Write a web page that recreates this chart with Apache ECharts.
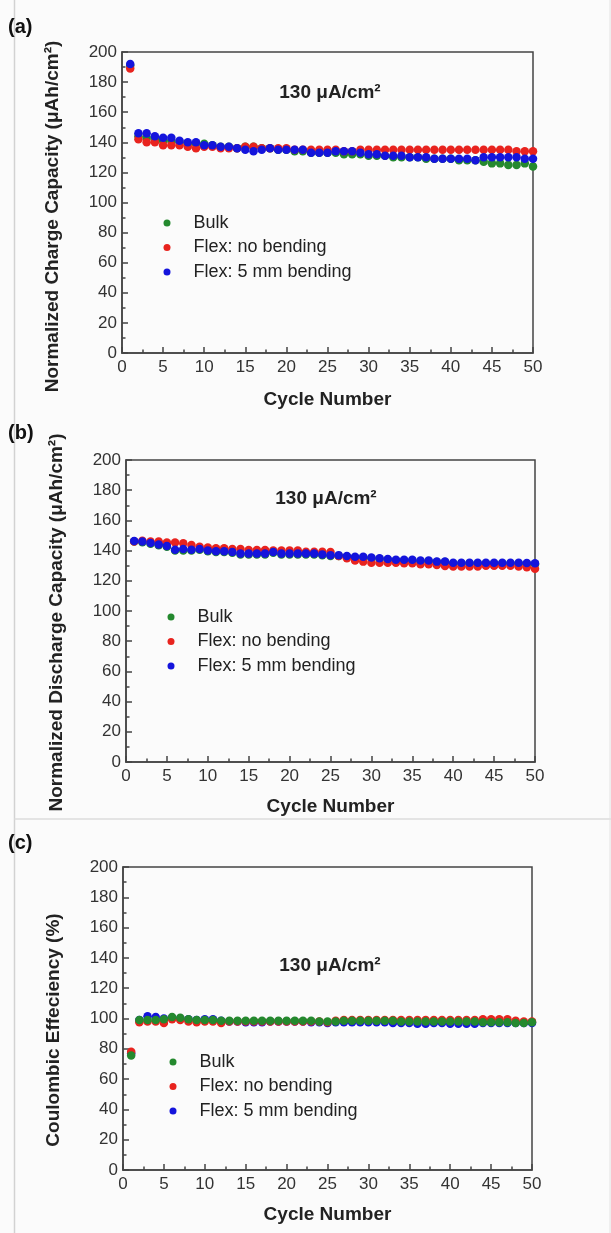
<!DOCTYPE html>
<html>
<head>
<meta charset="utf-8">
<script src="https://cdn.jsdelivr.net/npm/echarts@6/dist/echarts.min.js"></script>
<style>
html, body { margin: 0; padding: 0; background: #fbfbfb; }
#main { width: 611px; height: 1233px; }
</style>
</head>
<body>
<div id="main"></div>
<script>
var cycles = [1,2,3,4,5,6,7,8,9,10,11,12,13,14,15,16,17,18,19,20,21,22,23,24,25,
              26,27,28,29,30,31,32,33,34,35,36,37,38,39,40,41,42,43,44,45,46,47,48,49,50];
var seriesNames = ['Bulk', 'Flex: no bending', 'Flex: 5 mm bending'];

// (a) normalized charge capacity
var chargeBulk = [191,144,143,142,141,141,140,139,139,139,138,137,137,136,137,137,136,136,135,135,
                  134,134,133,133,133,133,132,132,132,131,131,131,130,130,130,130,129,129,129,129,
                  128,128,128,127,126,126,125,125,126,124];
var chargeFlex = [189,142,140,140,138,138,138,137,136,137,137,136,136,136,137,137,136,136,136,136,
                  135,135,135,135,135,135,134,134,135,135,135,135,135,135,135,135,135,135,135,135,
                  135,135,135,135,135,135,135,134,134,134];
var chargeBend = [192,146,146,144,143,143,141,140,140,138,138,137,137,136,135,134,135,136,135,135,
                  135,135,133,133,133,134,134,134,133,132,132,131,131,131,130,130,130,129,129,129,
                  129,129,128,130,130,130,130,130,129,129];

// (b) normalized discharge capacity
var dischargeBulk = [146,145.5,144.5,143.5,142.5,140,140,140,140.5,139.5,139,139,138.5,137.5,137.5,137.5,137.5,138.5,137.5,137.5,
                     137.5,137.5,137.5,137,136.5,136.5,136,135.5,135.5,135,134.5,134,133.5,133.5,133.5,133,133,132.5,132.5,131.5,
                     131.5,131.5,131.5,131.5,131.5,131.5,131.5,131.5,131,131];
var dischargeFlex = [146,146.6,146,146,145.3,145.3,144.8,143.7,142.6,142,141.5,141.5,141,141,140.4,140.4,140.4,140,140,140,
                     140,139.3,139.3,139.3,139,136.5,135,133.5,132.7,132,132,132,132,131.6,131.6,131,131,130.5,129.8,129.4,
                     129.4,129.5,129.5,130,130,130,130,129.5,129,128];
var dischargeBend = [146.4,146,145,144,143,140.5,141,140.5,141,140,139.5,139.5,139,138,138,138,138,139,138,138,
                     138,138,138,137.5,137,137,136.5,136,136,135.5,135,134.5,134,134,134,133.5,133.5,132.7,132.7,132,
                     132,132,132,132,132,132,132,132,131.8,131.6];

// (c) coulombic efficiency
var ceBulk = [75.5,99,99,99,99.5,101,100.5,99.5,99,99,99,98.5,98.5,98.5,98.5,98.5,98.5,98.5,98.5,98.5,
              98.5,98.5,98.5,98,98,98,98.5,98.5,98.5,98.5,98.5,98.5,98.5,98,98,98,98,98,98,98,
              98,98,98,97.5,97.5,97.5,97.5,97,97,97.5];
var ceFlex = [78,97.5,98,98,97,99.5,99,98,97.5,98,98,97,98,98,98,98,98,98,98,98,
              98,98,98,98,97.5,98.5,99,99,99,99,99,99,99,99,99,99,99,99,99,99,
              99,99,99,99.5,99.5,99.5,99.5,98.5,98,98];
var ceBend = [77,99,101.5,101,100,100.5,100,99.5,99,99.5,99.5,98.5,98,98,97.5,97.5,97.5,98,98,98,
              98,98,97.5,97.5,97,97.5,97.5,97.5,97.5,97.5,97.5,97.5,97,97,97,96.5,96.5,97,97,96.5,
              96.5,96.5,96.5,97,97,97,97,97,97,97];

var colors = { bulk: '#24892e', flex: '#e8231e', bend: '#1414dc' };
var FONT = '"Liberation Sans", Arial, sans-serif';

function pts(arr) {
    return cycles.map(function (c, i) { return [c, arr[i]]; });
}

var grids = [
    { left: 122, top: 52, width: 411, height: 301 },
    { left: 126, top: 460, width: 409, height: 302 },
    { left: 123, top: 867, width: 409, height: 303 }
];
var yNames = [
    'Normalized Charge Capacity (\u03bcAh/cm\u00b2)',
    'Normalized Discharge Capacity (\u03bcAh/cm\u00b2)',
    'Coulombic Effeciency (%)'
];
var yNameShift = [28, 23, 23];
var xNameGap = [37, 35, 35];

var axisColor = '#444';

function makeX(i) {
    return {
        type: 'value', gridIndex: i, min: 0, max: 50, interval: 5,
        name: 'Cycle Number', nameLocation: 'middle', nameGap: xNameGap[i],
        nameTextStyle: { fontFamily: FONT, fontSize: 19, fontWeight: 'bold', color: '#222' },
        axisLine: { lineStyle: { color: axisColor, width: 1.5 } },
        axisTick: { inside: true, length: 6, lineStyle: { color: axisColor, width: 1.5 } },
        minorTick: { show: true, splitNumber: 2, length: 3.5, lineStyle: { color: axisColor, width: 1.5 } },
        axisLabel: { fontFamily: FONT, fontSize: 17, color: '#333', margin: 6 },
        splitLine: { show: false }
    };
}
function makeY(i) {
    return {
        type: 'value', gridIndex: i, min: 0, max: 200, interval: 20,
        name: yNames[i], nameLocation: 'middle', nameGap: 60,
        nameTextStyle: { fontFamily: FONT, fontSize: 19, fontWeight: 'bold', color: '#222',
                         padding: [0, yNameShift[i], 0, 0] },
        axisLine: { lineStyle: { color: axisColor, width: 1.5 } },
        axisTick: { inside: true, length: 6, lineStyle: { color: axisColor, width: 1.5 } },
        minorTick: { show: true, splitNumber: 2, length: 3.5, lineStyle: { color: axisColor, width: 1.5 } },
        axisLabel: { fontFamily: FONT, fontSize: 17, color: '#333', margin: 5 },
        splitLine: { show: false }
    };
}

function scatter(i, name, data, color, z) {
    return {
        type: 'scatter', name: name, xAxisIndex: i, yAxisIndex: i,
        data: pts(data), symbol: 'circle', symbolSize: 8.5, z: z,
        itemStyle: { color: color, opacity: 1 }
    };
}

var legendTops = [214, 608, 1053];
var legendLefts = [163.5, 167.5, 169.5];
function makeLegend(i) {
    return {
        data: seriesNames, orient: 'vertical', left: legendLefts[i], top: legendTops[i],
        padding: 0, icon: 'circle', itemWidth: 7, itemHeight: 7, itemGap: 6.5,
        textStyle: { fontFamily: FONT, fontSize: 18, color: '#222', lineHeight: 18, padding: [0, 0, 0, 18] },
        selectedMode: false
    };
}

var annotY = [93, 499, 966];
var annotX = [330, 326, 330];
var panelLabels = ['(a)', '(b)', '(c)'];
var panelLabelY = [27, 433, 843];

var graphics = [
    { type: 'line', shape: { x1: 14.5, y1: 0, x2: 14.5, y2: 1233 }, style: { stroke: '#d2d2d2', lineWidth: 1.5 } },
    { type: 'line', shape: { x1: 14.5, y1: 819, x2: 611, y2: 819 }, style: { stroke: '#dcdcdc', lineWidth: 1.5 } },
    { type: 'line', shape: { x1: 610, y1: 0, x2: 610, y2: 1233 }, style: { stroke: '#e2e2e2', lineWidth: 1 } }
];
for (var k = 0; k < 3; k++) {
    graphics.push({
        type: 'text', x: annotX[k], y: annotY[k],
        style: { text: '130 \u03bcA/cm\u00b2', font: 'bold 19px ' + FONT, fill: '#222',
                 align: 'center', verticalAlign: 'middle' }
    });
    graphics.push({
        type: 'text', x: 8, y: panelLabelY[k],
        style: { text: panelLabels[k], font: 'bold 20px ' + FONT, fill: '#111',
                 align: 'left', verticalAlign: 'middle' }
    });
}

var chart = echarts.init(document.getElementById('main'));
var option = {
    backgroundColor: '#fbfbfb',
    animation: false,
    grid: grids.map(function (g) {
        return { left: g.left, top: g.top, width: g.width, height: g.height,
                 show: true, borderColor: axisColor, borderWidth: 1.5, backgroundColor: 'transparent' };
    }),
    xAxis: [makeX(0), makeX(1), makeX(2)],
    yAxis: [makeY(0), makeY(1), makeY(2)],
    legend: [makeLegend(0), makeLegend(1), makeLegend(2)],
    series: [
        scatter(0, seriesNames[0], chargeBulk, colors.bulk, 2),
        scatter(0, seriesNames[1], chargeFlex, colors.flex, 3),
        scatter(0, seriesNames[2], chargeBend, colors.bend, 4),
        scatter(1, seriesNames[0], dischargeBulk, colors.bulk, 2),
        scatter(1, seriesNames[1], dischargeFlex, colors.flex, 3),
        scatter(1, seriesNames[2], dischargeBend, colors.bend, 4),
        scatter(2, seriesNames[0], ceBulk, colors.bulk, 4),
        scatter(2, seriesNames[1], ceFlex, colors.flex, 3),
        scatter(2, seriesNames[2], ceBend, colors.bend, 2)
    ],
    graphic: graphics
};
chart.setOption(option);
</script>
</body>
</html>
